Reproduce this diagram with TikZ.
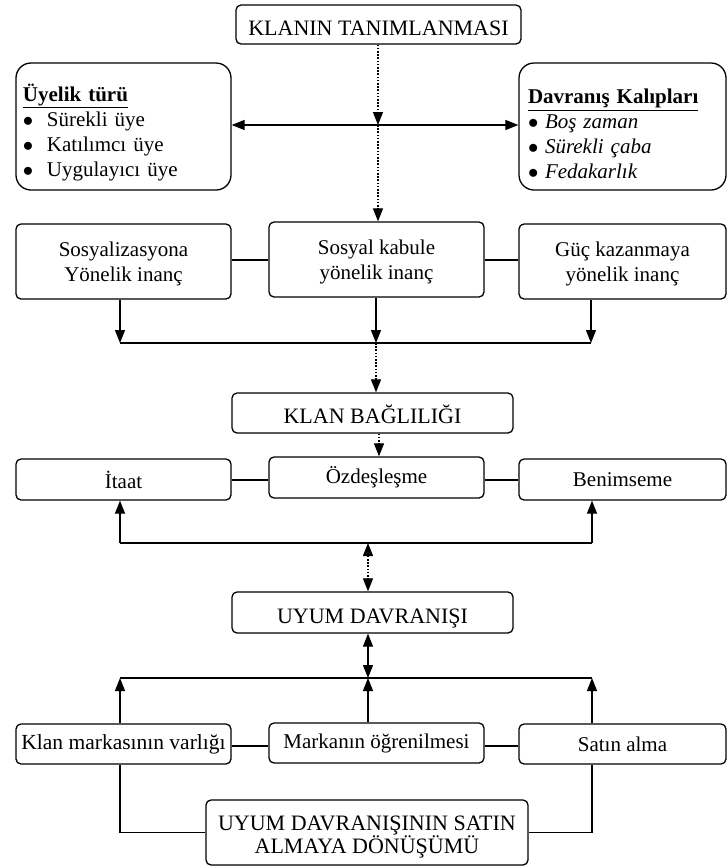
\documentclass[tikz,border=0pt]{standalone}
\usepackage{fontspec}
\setmainfont{Liberation Serif}
\usetikzlibrary{arrows.meta}

\begin{document}
\begin{tikzpicture}[
  x=1pt, y=-1pt,
  every node/.style={draw, rounded corners=5pt, line width=1.3pt, inner sep=0pt, align=center,
    font=\fontsize{21}{25}\selectfont},
  cizgi/.style={line width=1.2pt},
  okcizgi/.style={cizgi, -{Triangle[length=13pt,width=10pt]}},
  cift/.style={cizgi, {Triangle[length=13pt,width=10pt]}-{Triangle[length=13pt,width=10pt]}},
  noktali/.style={okcizgi, dash pattern=on 1.6pt off 1.6pt},
  noktalicift/.style={cift, dash pattern=on 1.6pt off 1.6pt}
]
\tikzset{
  solkutu/.style={minimum width=215pt},
  sagkutu/.style={minimum width=207pt},
  ortakutu/.style={minimum width=215pt},
  baslik/.style={font=\fontsize{22}{25}\selectfont, text height=21pt, text depth=0pt},
  ikisatir/.style={minimum height=75pt, text height=45pt},
  yankutu/.style={rounded corners=15pt, align=left, minimum height=127pt, text height=30pt}
}
\useasboundingbox (0,0) rectangle (727,868);

% ust kisim
\node[baslik, minimum width=285pt, minimum height=39pt] (tanim) at (378.5,24.5) {KLANIN TANIMLANMASI};
\node[yankutu, inner xsep=7pt, text width=201pt] (uyelik) at (123.5,126.5)
  {\underline{\textbf{Üyelik türü}}\\
   \makebox[24pt][l]{$\bullet$}Sürekli üye\\
   \makebox[24pt][l]{$\bullet$}Katılımcı üye\\
   \makebox[24pt][l]{$\bullet$}Uygulayıcı üye};
\node[yankutu, inner xsep=9pt, text width=189pt] (davranis) at (622.5,126.5)
  {\underline{\textbf{Davranış Kalıpları}}\\
   \makebox[17pt][l]{$\bullet$}\textit{Boş zaman}\\
   \makebox[17pt][l]{$\bullet$}\textit{Sürekli çaba}\\
   \makebox[17pt][l]{$\bullet$}\textit{Fedakarlık}};

\node[solkutu, ikisatir] (sosyalizasyon) at (123.5,261.5) {Sosyalizasyona\\Yönelik inanç};
\node[ortakutu, ikisatir] (sosyal) at (376.5,259.5) {Sosyal kabule\\yönelik inanç};
\node[sagkutu, ikisatir] (guc) at (622.5,261.5) {Güç kazanmaya\\yönelik inanç};

% baglilik
\node[baslik, minimum width=281pt, minimum height=40pt] (bagli) at (372.5,413) {KLAN BAĞLILIĞI};
\node[solkutu, minimum height=41pt] (itaat) at (123.5,479.5) {İtaat};
\node[ortakutu, minimum height=41pt] (ozdes) at (376.5,477.5) {Özdeşleşme};
\node[sagkutu, minimum height=41pt] (benim) at (622.5,479.5) {Benimseme};

% uyum
\node[baslik, minimum width=281pt, minimum height=41pt] (uyum) at (372.5,612.5) {UYUM DAVRANIŞI};
\node[solkutu, minimum height=40pt, font=\fontsize{21.5}{25}\selectfont] (marka) at (123.5,744) {Klan markasının varlığı};
\node[ortakutu, minimum height=40pt] (ogren) at (376.5,743) {Markanın öğrenilmesi};
\node[sagkutu, minimum height=40pt] (satin) at (622.5,744) {Satın alma};
\node[minimum width=322pt, minimum height=65pt, font=\fontsize{22}{23}\selectfont, text height=46pt] (donusum) at (367,832.5)
  {UYUM DAVRANIŞININ SATIN\\ALMAYA DÖNÜŞÜMÜ};

\coordinate (kes) at (378,125);
\coordinate (t1) at (120,343);
\coordinate (t2) at (376,343);
\coordinate (t3) at (591,343);
\coordinate (dik) at (379,0);
\coordinate (b1) at (120,543);
\coordinate (b2) at (368,543);
\coordinate (b3) at (592,543);
\coordinate (a1) at (120,678);
\coordinate (a2) at (368,678);
\coordinate (a3) at (592,678);

\draw[noktali] (tanim.south -| kes) -- (kes);
\draw[noktali] (kes) -- (sosyal.north -| kes);
\draw[cift] (uyelik.east |- kes) -- (davranis.west |- kes);

\draw[cizgi] (sosyal.west |- 0,260) -- (sosyalizasyon.east |- 0,260);
\draw[cizgi] (sosyal.east |- 0,260) -- (guc.west |- 0,260);
\draw[okcizgi] (sosyalizasyon.south -| t1) -- (t1);
\draw[okcizgi] (sosyal.south -| t2) -- (t2);
\draw[okcizgi] (guc.south -| t3) -- (t3);
\draw[cizgi] (t1) -- (t3);
\draw[noktali] (t2) -- (bagli.north -| t2);
\draw[noktali] (bagli.south -| dik) -- (ozdes.north -| dik);

\draw[cizgi] (ozdes.west |- 0,480) -- (itaat.east |- 0,480);
\draw[cizgi] (ozdes.east |- 0,480) -- (benim.west |- 0,480);
\draw[cizgi] (b1) -- (b3);
\draw[okcizgi] (b1) -- (itaat.south -| b1);
\draw[okcizgi] (b3) -- (benim.south -| b3);
\draw[noktalicift] (b2) -- (uyum.north -| b2);

\draw[cift] (uyum.south -| a2) -- (a2);
\draw[cizgi] (a1) -- (a3);
\draw[okcizgi] (marka.north -| a1) -- (a1);
\draw[okcizgi] (ogren.north -| a2) -- (a2);
\draw[okcizgi] (satin.north -| a3) -- (a3);
\draw[cizgi] (ogren.west |- 0,746) -- (marka.east |- 0,746);
\draw[cizgi] (ogren.east |- 0,746) -- (satin.west |- 0,746);

\draw[cizgi] (marka.south -| a1) |- (donusum.west); % alt baglanti
\draw[cizgi] (satin.south -| a3) |- (donusum.east);
\end{tikzpicture}
\end{document}
